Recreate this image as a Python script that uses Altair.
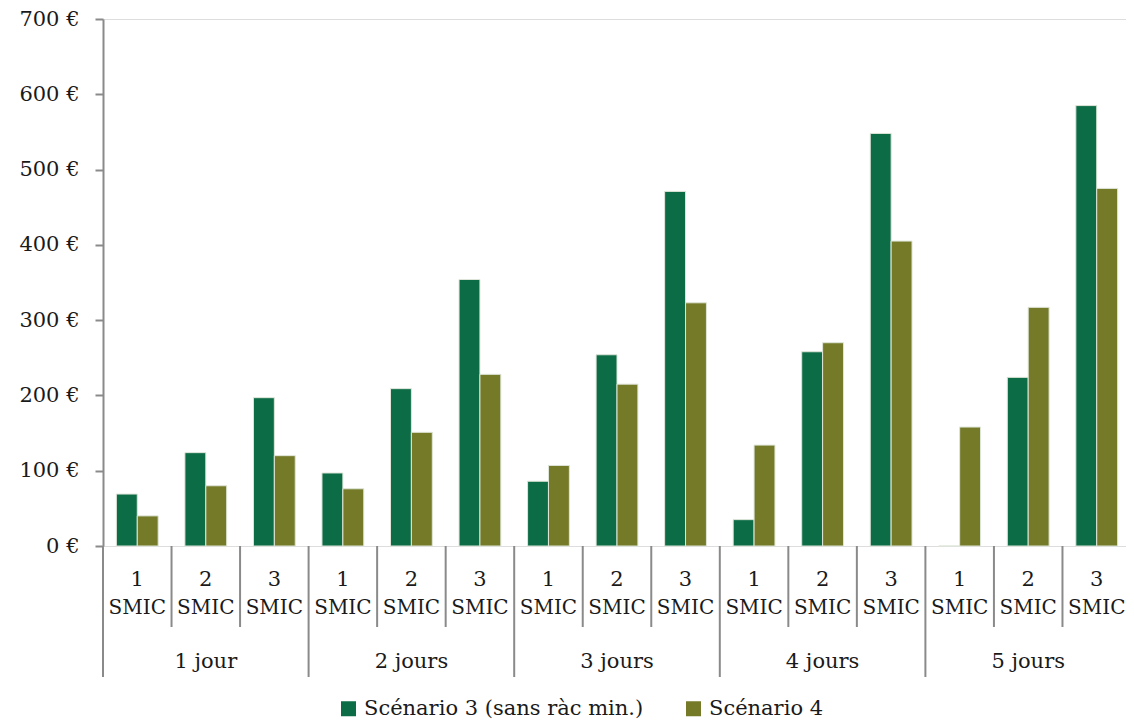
import altair as alt
import pandas as pd

groups = ["1 jour", "2 jours", "3 jours", "4 jours", "5 jours"]
smic_levels = ["1", "2", "3"]
smic_word = "SMIC"
series_names = ["Scénario 3 (sans ràc min.)", "Scénario 4"]
scenario3 = [69, 124, 197, 97, 209, 354, 86, 254, 471, 35, 258, 548, 0, 224, 585]
scenario4 = [40, 80, 120, 76, 151, 228, 107, 215, 323, 134, 270, 405, 158, 317, 475]
y_ticks = [0, 100, 200, 300, 400, 500, 600, 700]

colors = ["#0c6c46", "#747a28"]
FONT = "DejaVu Serif"
FS = 21
TXT = "#1a1a1a"
AXC = "#8a8a8a"
H = 527

cats = [f"{g}|{s}" for g in groups for s in smic_levels]

rows = []
for i, c in enumerate(cats):
    rows.append({"cat": c, "series": series_names[0], "value": scenario3[i]})
    rows.append({"cat": c, "series": series_names[1], "value": scenario4[i]})
bars_df = pd.DataFrame(rows)

cat_df = pd.DataFrame({
    "cat": cats,
    "group": [g for g in groups for s in smic_levels],
    "num": [s for g in groups for s in smic_levels],
    "word": [smic_word] * len(cats),
})

xscale = alt.Scale(domain=cats, paddingInner=0, paddingOuter=0)

bars = alt.Chart(bars_df).mark_bar(stroke="#dfe6d9", strokeWidth=1).encode(
    x=alt.X("cat:N", scale=xscale, sort=cats,
            axis=alt.Axis(labels=False, ticks=False, title=None, domain=True,
                          domainColor=AXC, domainWidth=2, grid=False, zindex=1)),
    xOffset=alt.XOffset("series:N", sort=series_names,
                        scale=alt.Scale(paddingOuter=0.64, paddingInner=0)),
    y=alt.Y("value:Q", scale=alt.Scale(domain=[0, 700], nice=False),
            axis=alt.Axis(values=y_ticks, labelExpr="datum.value + ' €'", title=None,
                          grid=False, tickSize=8, tickColor=AXC, tickWidth=2,
                          domainColor=AXC, domainWidth=2, labelPadding=16,
                          labelFont=FONT, labelFontSize=FS, labelColor=TXT, zindex=1)),
    color=alt.Color("series:N", sort=series_names,
                    scale=alt.Scale(domain=series_names, range=colors),
                    legend=alt.Legend(title=None, orient="none", legendX=235, legendY=679,
                                      direction="horizontal", symbolType="square",
                                      symbolSize=225, symbolStrokeWidth=0,
                                      labelFont=FONT, labelFontSize=FS, labelColor=TXT,
                                      labelOffset=5, columnPadding=39, padding=0,
                                      labelLimit=500)),
)

xcat = alt.X("cat:N", scale=xscale, sort=cats, axis=None)

num_text = alt.Chart(cat_df).mark_text(font=FONT, fontSize=FS, color=TXT, baseline="middle").encode(
    x=xcat, y=alt.value(H + 34), text="num:N")
word_text = alt.Chart(cat_df).mark_text(font=FONT, fontSize=20, color=TXT, baseline="middle").encode(
    x=xcat, y=alt.value(H + 62), text="word:N")
group_text = alt.Chart(cat_df).transform_filter("datum.num == '2'").mark_text(
    font=FONT, fontSize=FS, color=TXT, baseline="middle").encode(
    x=xcat, y=alt.value(H + 116), text="group:N")

short_sep = alt.Chart(cat_df).transform_filter("datum.num != '1'").mark_rule(
    color=AXC, strokeWidth=2).encode(
    x=alt.X("cat:N", scale=xscale, sort=cats, axis=None, bandPosition=0),
    y=alt.value(H), y2=alt.value(H + 81))
long_sep = alt.Chart(cat_df).transform_filter("datum.num == '1'").mark_rule(
    color=AXC, strokeWidth=2).encode(
    x=alt.X("cat:N", scale=xscale, sort=cats, axis=None, bandPosition=0),
    y=alt.value(H), y2=alt.value(H + 131))

chart = alt.layer(bars, short_sep, long_sep, num_text, word_text, group_text).properties(
    width=1028, height=H,
    padding={"left": 95, "top": 11, "right": -5, "bottom": 174},
    autosize=alt.AutoSizeParams(type="none"),
).configure_view(stroke=None).configure(background="white")

chart.save("out.html", embed_options={"renderer": "svg", "actions": False})
